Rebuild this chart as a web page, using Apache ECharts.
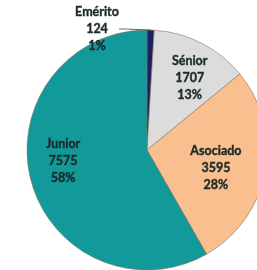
<!DOCTYPE html>
<html>
<head>
<meta charset="utf-8">
<script src="https://cdn.jsdelivr.net/npm/echarts@6/dist/echarts.min.js"></script>
<style>
  html, body { margin: 0; padding: 0; background: #fff; }
  #chart { width: 257px; height: 270px; }
</style>
</head>
<body>
<div id="chart"></div>
<script>
const categories = ['Emérito', 'Sénior', 'Asociado', 'Junior']
const counts = [124, 1707, 3595, 7575]
const percents = ['1%', '13%', '28%', '58%']
const colors = ['#1b1f63', '#dcdcdc', '#f9bf8e', '#129a9b']

// nudges for the labels so they sit where the original has them
const labelNudge = [
  { x: 97, y: 29, align: 'center', verticalAlign: 'middle' },
  { dx: 14, dy: -16 },
  { dx: 7, dy: 7 },
  { dx: -23, dy: -5 },
]

const chart = echarts.init(document.getElementById('chart'))

chart.setOption({
  animation: false,
  backgroundColor: '#fff',
  series: [
    {
      type: 'pie',
      center: [147, 150],
      radius: 120,
      startAngle: 90,
      clockwise: true,
      avoidLabelOverlap: false,
      itemStyle: {
        borderColor: 'rgba(130,110,85,0.7)',
        borderWidth: 0.8,
      },
      label: {
        show: true,
        position: 'inside',
        formatter: (p) => p.name + '\n' + counts[p.dataIndex] + '\n' + percents[p.dataIndex],
        fontFamily: 'Lato',
        fontWeight: 'bold',
        fontSize: 12.5,
        lineHeight: 17,
        color: '#1c2b2b',
        textBorderColor: '#1c2b2b',
        textBorderWidth: 0.4,
        align: 'center',
      },
      labelLayout: (params) => labelNudge[params.dataIndex],
      data: categories.map((name, i) => {
        const item = { name, value: counts[i], itemStyle: { color: colors[i] } }
        if (i === 0) {
          item.label = { position: 'outside', align: 'center' }
          item.labelLine = {
            show: true,
            length: 6,
            length2: 6,
            smooth: 0.3,
            lineStyle: { color: '#555', width: 1 },
          }
        }
        return item
      }),
    },
  ],
})
</script>
</body>
</html>
